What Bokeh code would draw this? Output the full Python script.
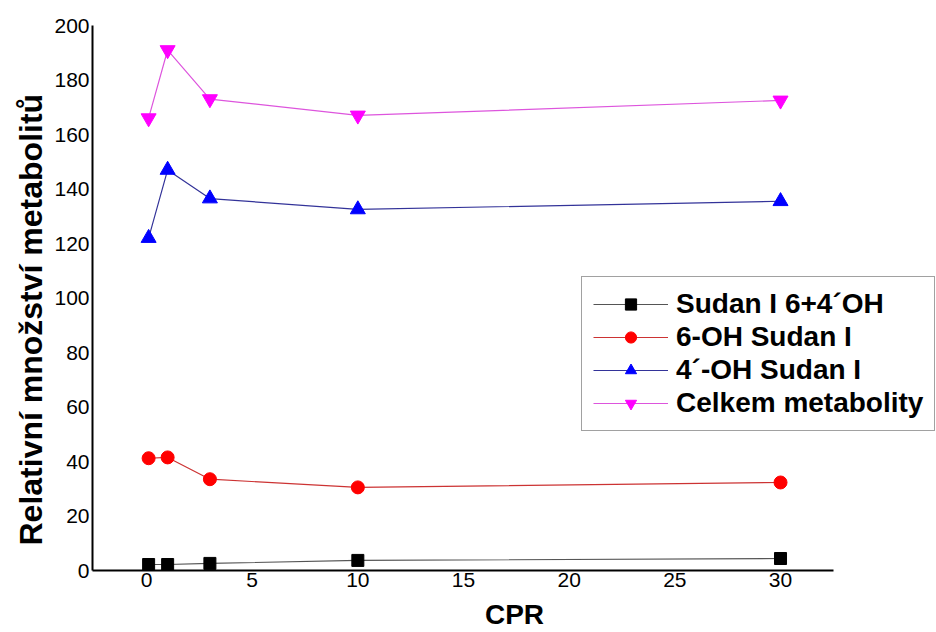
from bokeh.plotting import figure
from bokeh.models import Range1d, Legend, Title
from bokeh.embed import file_html
from bokeh.resources import INLINE

# Data
cpr = [0.1, 1, 3, 10, 30]
sudan_6_4oh = [2.2, 2.2, 2.6, 3.7, 4.4]
oh6_sudan = [41.2, 41.5, 33.5, 30.5, 32.3]
oh4_sudan = [122, 147, 136.5, 132.5, 135.5]
celkem = [166, 191, 173, 167, 172.5]

series_names = ["Sudan I 6+4´OH", "6-OH Sudan I", "4´-OH Sudan I", "Celkem metabolity"]
x_ticks = [0, 5, 10, 15, 20, 25, 30]
y_ticks = [0, 20, 40, 60, 80, 100, 120, 140, 160, 180, 200]

p = figure(width=936, height=632, output_backend="svg", toolbar_location=None,
           x_range=Range1d(-2.555, 37.38), y_range=Range1d(0, 200),
           min_border_left=92, min_border_right=0, min_border_top=25, min_border_bottom=62)
p.outline_line_color = None
p.xgrid.visible = False
p.ygrid.visible = False
p.background_fill_color = "white"
p.border_fill_color = "white"

specs = [
    (sudan_6_4oh, "#000000", "#555555", "square", 12),
    (oh6_sudan, "#ff0000", "#cc3333", "circle", 13),
    (oh4_sudan, "#0000ff", "#333399", "triangle", 15),
    (celkem, "#ff00ff", "#dd55dd", "inverted_triangle", 15),
]
items = []
for (ys, mc, lc, mk, sz), name in zip(specs, series_names):
    r1 = p.line(cpr, ys, line_color=lc, line_width=1.2)
    r2 = p.scatter(cpr, ys, marker=mk, size=sz, fill_color=mc, line_color=mc)
    items.append((name, [r1, r2]))

legend = Legend(items=items, location=(489, 139))
legend.label_text_font = "Liberation Sans"
legend.label_text_font_style = "bold"
legend.label_text_font_size = "28px"
legend.label_text_color = "black"
legend.glyph_width = 75
legend.glyph_height = 28
legend.label_height = 28
legend.spacing = 1
legend.padding = 11
legend.margin = 0
legend.label_standoff = 8
legend.border_line_color = "#444444"
legend.border_line_width = 1
legend.background_fill_alpha = 1.0
p.add_layout(legend, "center")

for ax in (p.xaxis[0], p.yaxis[0]):
    ax.axis_line_width = 2
    ax.axis_line_color = "black"
    ax.major_tick_line_color = None
    ax.minor_tick_line_color = None
    ax.major_tick_out = 0
    ax.major_tick_in = 0
    ax.major_label_text_font = "Liberation Sans"
    ax.major_label_text_font_size = "21px"
    ax.major_label_text_color = "black"
    ax.axis_label_text_font = "Liberation Sans"
    ax.axis_label_text_font_style = "bold"
    ax.axis_label_text_color = "black"

p.xaxis.bounds = (-2.555, 32.5)
p.xaxis.ticker = x_ticks
p.yaxis.ticker = y_ticks
p.xaxis.axis_label = "CPR"
p.xaxis.axis_label_text_font_size = "28px"
p.xaxis.major_label_standoff = 2
p.yaxis.major_label_standoff = 3
p.xaxis.axis_label_standoff = 9

ytitle = Title(text="Relativní množství metabolitů", align="left", offset=25,
               text_font="Liberation Sans", text_font_style="bold",
               text_font_size="32px", text_color="black", standoff=6)
p.add_layout(ytitle, "left")

open("out.html", "w").write(file_html(p, INLINE))
